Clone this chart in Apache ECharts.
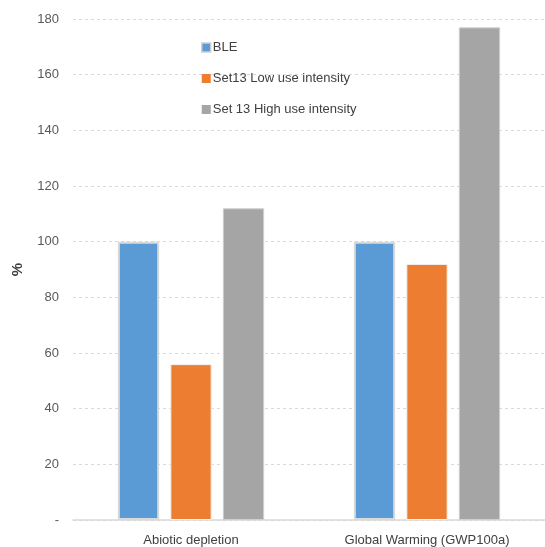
<!DOCTYPE html>
<html><head><meta charset="utf-8">
<script src="https://cdn.jsdelivr.net/npm/echarts@6/dist/echarts.min.js"></script>
<style>html,body{margin:0;padding:0;background:#fff}#c{width:545px;height:547px}</style>
</head><body><div id="c"></div>
<script>
const categories = ["Abiotic depletion", "Global Warming (GWP100a)"];
const seriesNames = ["BLE", "Set13 Low use intensity", "Set 13 High use intensity"];
const bleValues = [100, 100];
const lowValues = [56, 92];
const highValues = [112, 177];
const yTicks = [0, 20, 40, 60, 80, 100, 120, 140, 160, 180];

const chart = echarts.init(document.getElementById('c'), null, {renderer: 'canvas'});
const font = 'Liberation Sans, Arial, sans-serif';
chart.setOption({
  animation: false,
  textStyle: {fontFamily: font},
  grid: {left: 73, right: -4, top: 19, bottom: 27, containLabel: false},
  legend: {
    orient: 'vertical', left: 196, top: 36, itemGap: 18,
    itemWidth: 9, itemHeight: 9, icon: 'rect',
    textStyle: {fontSize: 13, color: '#404040', fontFamily: font, padding: [0,0,0,-3]},
    data: [
      {name: seriesNames[0], itemStyle: {borderColor: '#d0d0d0', borderWidth: 1.5}},
      {name: seriesNames[1], itemStyle: {borderWidth: 0}},
      {name: seriesNames[2], itemStyle: {borderWidth: 0}}
    ]
  },
  xAxis: {
    type: 'category', data: categories,
    axisLine: {lineStyle: {color: '#d9d9d9', width: 1.5}},
    axisTick: {show: false},
    axisLabel: {fontSize: 13, color: '#404040', margin: 14, fontFamily: font}
  },
  yAxis: {
    type: 'value', min: yTicks[0], max: yTicks[yTicks.length-1], interval: 20,
    name: '%', nameLocation: 'middle', nameGap: 48, nameRotate: 90,
    nameTextStyle: {fontSize: 15, fontWeight: 'bold', color: '#404040', fontFamily: font},
    axisLine: {show: false}, axisTick: {show: false},
    axisLabel: {fontSize: 13, color: '#595959', margin: 14, fontFamily: font,
      formatter: v => v === 0 ? '-' : String(v)},
    splitLine: {lineStyle: {color: '#d9d9d9', type: [3, 3], width: 1}}
  },
  series: [
    {name: seriesNames[0], type: 'bar', data: bleValues, barGap: '27%', barCategoryGap: '38%',
     itemStyle: {color: '#5b9bd5', borderColor: '#dadada', borderWidth: 2}},
    {name: seriesNames[1], type: 'bar', data: lowValues,
     itemStyle: {color: '#ed7d31', borderColor: '#f2f2f2', borderWidth: 1}},
    {name: seriesNames[2], type: 'bar', data: highValues,
     itemStyle: {color: '#a5a5a5', borderColor: '#d0d0d0', borderWidth: 1}}
  ]
});
</script></body></html>
